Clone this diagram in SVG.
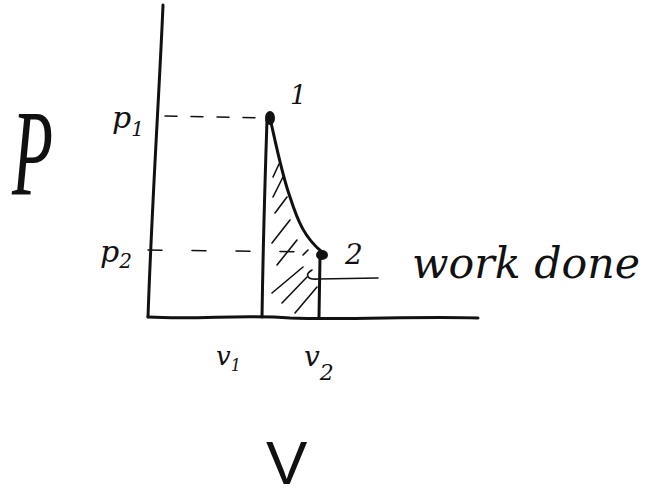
<svg xmlns="http://www.w3.org/2000/svg" width="649" height="497" viewBox="0 0 649 497">
<style>
.ink{fill:none;stroke:#111;stroke-linecap:round;stroke-linejoin:round}
.ax{stroke-width:3}
.thin{stroke-width:1.6}
.dash{stroke-width:1.5;stroke-dasharray:12 14}
.t{font-family:"DejaVu Serif","Liberation Serif",serif;font-style:italic;fill:#111}
.big{font-family:"Liberation Serif",serif;fill:#111}
</style>
<rect width="649" height="497" fill="#fff"/>
<g id="axes">
<path class="ink ax" d="M163,5 C160,80 152,200 148,317"/>
<path class="ink ax" d="M148,317 C200,320 240,314 290,318 C350,320 420,316 478,318"/>
</g>
<g id="guides">
<path class="ink dash" d="M165,116 L262,118"/>
<path class="ink dash" d="M148,250 L318,252" style="stroke-dasharray:14 30"/>
</g>
<g id="region">
<path class="ink ax" d="M267,120 C265,180 263,250 262,317"/>
<path class="ink ax" d="M320,257 L319,317"/>
<path class="ink thin" d="M273,177 L279,164 M273,197 L283,177 M275,213 L287,197 M272,243 L290,220 M277,265 L297,240 M272,293 L303,267 M282,303 L307,277 M295,313 L317,287 M303,255 L308,250"/>
</g>
<g id="curve">
<path class="ink ax" d="M270,118 C275,140 282,175 290,197 C298,222 305,238 322,252"/>
<ellipse cx="270" cy="118" rx="5" ry="7" fill="#111"/>
<ellipse cx="322" cy="255" rx="6" ry="5" fill="#111"/>
</g>
<g id="pointer">
<path class="ink thin" d="M312,270 C305,274 306,280 318,279 L378,278"/>
</g>
<g id="labels">
<text class="t" x="290" y="104" font-size="26">1</text>
<text class="t" x="112" y="128" font-size="30">p<tspan font-size="20" dy="8">1</tspan></text>
<text class="t" x="100" y="262" font-size="30">p<tspan font-size="20" dy="6">2</tspan></text>
<text class="t" x="345" y="264" font-size="28">2</text>
<text class="t" x="412" y="278" font-size="42" textLength="228" lengthAdjust="spacingAndGlyphs">work done</text>
<text class="t" x="216" y="365" font-size="26">v<tspan font-size="16" dy="6">1</tspan></text>
<text class="t" x="304" y="366" font-size="28">v<tspan font-size="22" dy="14">2</tspan></text>
<text class="big" font-style="italic" font-size="122" transform="translate(12,195) scale(0.55,1)">P</text>
<text x="266" y="484" font-size="62" style="font-family:'Liberation Sans',sans-serif;fill:#111">V</text>
</g>
</svg>
